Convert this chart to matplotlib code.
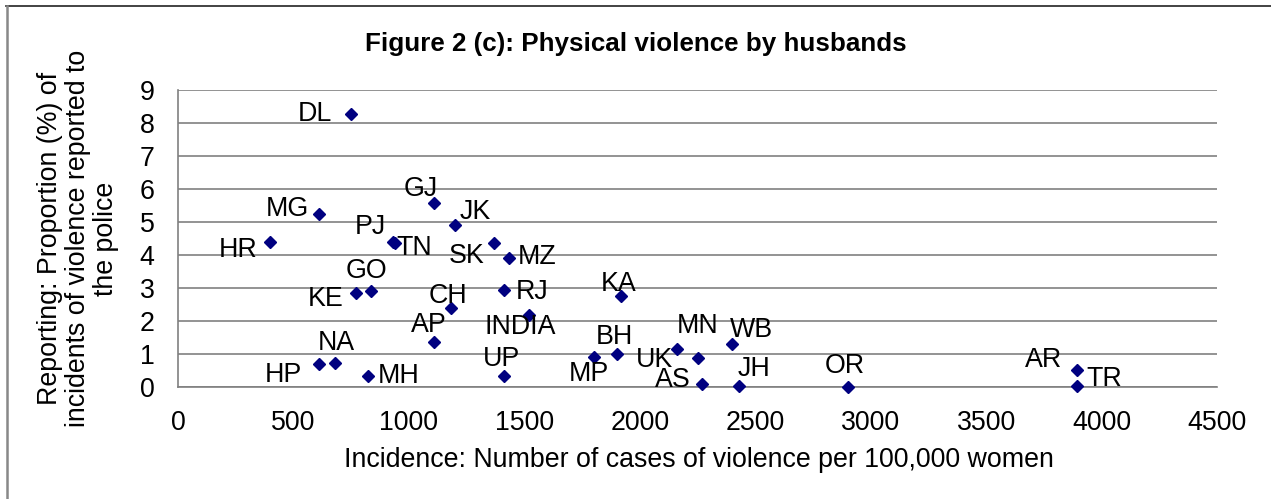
import numpy as np
import matplotlib
matplotlib.use("Agg")
import matplotlib.pyplot as plt
from matplotlib.lines import Line2D

# state codes, incidence per 100,000 women, % reported to police
codes = ['DL', 'MG', 'HR', 'GJ', 'JK', 'PJ', 'TN', 'SK', 'MZ', 'GO',
         'KE', 'CH', 'RJ', 'INDIA', 'AP', 'NA', 'HP', 'MH', 'UP', 'KA',
         'BH', 'MP', 'UK', 'MN', 'AS', 'WB', 'JH', 'OR', 'AR', 'TR']
incidence = [749, 611, 398, 1110, 1200, 930, 940, 1370, 1432, 838,
             769, 1181, 1410, 1520, 1110, 679, 611, 822, 1410, 1919,
             1900, 1800, 2160, 2250, 2271, 2399, 2430, 2902, 3892, 3892]
reporting = [8.27, 5.24, 4.39, 5.57, 4.90, 4.40, 4.37, 4.36, 3.92, 2.92,
             2.86, 2.39, 2.95, 2.19, 1.36, 0.73, 0.71, 0.35, 0.34, 2.76,
             1.00, 0.93, 1.15, 0.88, 0.10, 1.31, 0.03, 0.02, 0.53, 0.04]

x_ticks = [0, 500, 1000, 1500, 2000, 2500, 3000, 3500, 4000, 4500]
y_ticks = [0, 1, 2, 3, 4, 5, 6, 7, 8, 9]

title = 'Figure 2 (c): Physical violence by husbands'
xlabel = 'Incidence: Number of cases of violence per 100,000 women'
ylabel = 'Reporting: Proportion (%) of\nincidents of violence reported to\nthe police'

# label placement (pixels, x right / y down)
label_offset = {
    'DL': (-36, 0), 'MG': (-32, -5), 'HR': (-32, 8), 'GJ': (-14, -14),
    'JK': (20, -13), 'PJ': (-22, -15), 'TN': (19, 5), 'SK': (-28, 13),
    'MZ': (28, -1), 'GO': (-5, -20), 'KE': (-30, 6), 'CH': (-3, -12),
    'RJ': (29, 2), 'INDIA': (-9, 12), 'AP': (-5, -17), 'NA': (2, -20),
    'HP': (-36, 11), 'MH': (31, 0), 'UP': (-2, -17), 'KA': (-2, -12),
    'BH': (-2, -17), 'MP': (-5, 17), 'UK': (-22, 11), 'MN': (0, -32),
    'AS': (-30, -4), 'WB': (20, -14), 'JH': (15, -17), 'OR': (-3, -21),
    'AR': (-33, -10), 'TR': (28, -7),
}

plt.rcParams['font.family'] = ['Liberation Sans', 'DejaVu Sans']
fs = 19.3
W, H = 1271, 499

fig = plt.figure(figsize=(W / 100, H / 100), dpi=100)
ax = fig.add_axes([178 / W, 1 - 387.3 / H, (1217 - 178) / W, (387.3 - 90) / H])

ax.plot(incidence, reporting, ls='none', marker='D', ms=6.6,
        color='#000080', zorder=3, clip_on=False)

for c, xv, yv in zip(codes, incidence, reporting):
    dx, dy = label_offset[c]
    ax.annotate(c, (xv, yv), xytext=(dx, -dy), textcoords='offset pixels',
                ha='center', va='center', fontsize=fs, color='black',
                annotation_clip=False, zorder=4)

ax.set_xlim(0, 4500)
ax.set_ylim(0, 9)
ax.set_xticks(x_ticks)
ax.set_yticks(y_ticks)
ax.set_xticklabels([str(t) for t in x_ticks])
ax.set_yticklabels([str(t) for t in y_ticks])
ax.tick_params(axis='both', length=0, labelsize=fs)
ax.tick_params(axis='x', pad=16)
ax.tick_params(axis='y', pad=17)

ax.grid(axis='y', color='#808080', linewidth=1.2, zorder=0)
ax.set_axisbelow(True)
for s in ['top', 'right']:
    ax.spines[s].set_visible(False)
for s in ['left', 'bottom']:
    ax.spines[s].set_color('#808080')
    ax.spines[s].set_linewidth(1.2)

fig.text(0.5, 1 - 50.7 / H, title, ha='center', va='baseline',
         fontsize=18.7, fontweight='bold')
fig.text(699 / W, 1 - 467 / H, xlabel, ha='center', va='baseline', fontsize=fs)
fig.text(78 / W, 1 - 238.5 / H, ylabel, ha='center', va='center',
         rotation=90, fontsize=fs, multialignment='center', linespacing=1.12)

# outer chart frame (only top and left edges visible in the crop)
fig.add_artist(Line2D([6 / W, 1], [1 - 6 / H, 1 - 6 / H],
                      transform=fig.transFigure, color='#222222', lw=1.2))
fig.add_artist(Line2D([6.5 / W, 6.5 / W], [0, 1 - 6 / H],
                      transform=fig.transFigure, color='#888888', lw=1.8))

fig.savefig('out.png', dpi=100)
